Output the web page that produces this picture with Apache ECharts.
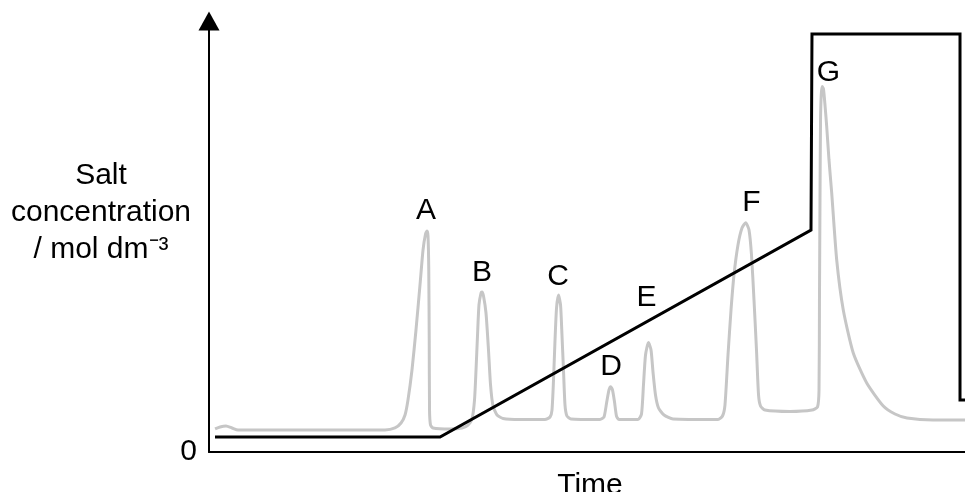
<!DOCTYPE html>
<html>
<head>
<meta charset="utf-8">
<script src="https://cdn.jsdelivr.net/npm/echarts@6/dist/echarts.min.js"></script>
<style>
html,body{margin:0;padding:0;background:#fff;}
#chart{width:965px;height:492px;}
</style>
</head>
<body>
<div id="chart"></div>
<script>
// Time axis and concentration axis both in relative units 0–100
var timeRange = [0, 100];
var levelRange = [0, 100];
var yTickLabels = ['0'];

// Chromatogram (absorbance trace, grey) [time, level]
var chromatogram = [
  [0.8, 5.34], [1.46, 5.80], [2.25, 6.03], [3.04, 5.57], [3.84, 5.10], [12.04, 5.10], [23.28, 5.10],
  [24.60, 5.57], [25.40, 6.73], [25.93, 8.58], [26.32, 12.06], [26.85, 19.03], [27.38, 28.31],
  [27.91, 38.75], [28.31, 46.87], [28.64, 50.58], [28.84, 51.28], [28.97, 50.12], [29.07, 42.23],
  [29.13, 25.99], [29.17, 9.74], [29.30, 6.26], [29.63, 5.57], [31.88, 5.34], [33.47, 5.57],
  [34.26, 6.26], [34.79, 7.66], [35.12, 12.06], [35.32, 19.03], [35.52, 27.15], [35.71, 34.11],
  [35.98, 36.89], [36.11, 37.12], [36.31, 36.19], [36.64, 32.25], [36.97, 23.67], [37.24, 15.55],
  [37.57, 10.67], [38.10, 8.58], [38.89, 7.77], [41.14, 7.54], [44.44, 7.54], [45.11, 8.12],
  [45.37, 9.74], [45.57, 16.71], [45.77, 25.99], [45.97, 33.41], [46.23, 36.43], [46.50, 34.11],
  [46.69, 27.15], [46.89, 19.03], [47.09, 10.90], [47.35, 8.35], [47.88, 7.66], [51.72, 7.54],
  [52.25, 8.12], [52.61, 11.60], [52.91, 14.39], [53.13, 15.15], [53.37, 14.39], [53.64, 11.60],
  [53.90, 8.35], [54.23, 7.54], [56.75, 7.54], [57.21, 8.82], [57.47, 15.55], [57.74, 22.51],
  [58.13, 25.41], [58.47, 23.67], [58.73, 18.56], [59.06, 13.23], [59.46, 10.21], [60.19, 8.58],
  [61.38, 7.66], [67.33, 7.54], [67.92, 8.35], [68.25, 10.90], [68.65, 22.51], [69.05, 32.95],
  [69.44, 41.07], [69.97, 48.03], [70.50, 51.97], [70.99, 53.20], [71.43, 51.51], [71.76, 45.71],
  [72.09, 35.27], [72.42, 23.67], [72.69, 13.23], [72.95, 10.67], [73.54, 9.74], [76.85, 9.40],
  [79.76, 9.74], [80.49, 10.44], [80.69, 14.39], [80.75, 35.27], [80.82, 58.47], [80.89, 77.03],
  [80.99, 83.06], [81.12, 84.80], [81.28, 84.22], [81.48, 80.51], [81.71, 75.41], [82.01, 67.75],
  [82.37, 60.09], [83.03, 44.55], [83.90, 32.95], [85.22, 22.97], [87.00, 16.01], [89.19, 10.67],
  [90.74, 8.82], [92.33, 7.89], [95.77, 7.42], [100, 7.42]
];

// Salt concentration gradient (black) [time, level]
var saltGradient = [
  [0.79, 3.48], [30.56, 3.48], [79.63, 51.51], [79.76, 96.98],
  [99.34, 96.98], [99.34, 12.06], [100, 12.06]
];

// Peak labels [time, level, name]
var peakNames = ['A', 'B', 'C', 'D', 'E', 'F', 'G'];
var peakLabelTime = [28.70, 36.11, 46.16, 53.17, 57.88, 71.76, 81.94];
var peakLabelLevel = [55.92, 41.65, 40.72, 19.84, 35.73, 57.89, 88.05];

var peakLabelData = peakNames.map(function (n, i) {
  return [peakLabelTime[i], peakLabelLevel[i], n];
});

var FONT = "'Liberation Sans', Arial, sans-serif";

var chart = echarts.init(document.getElementById('chart'), null, {renderer: 'canvas'});
chart.setOption({
  animation: false,
  backgroundColor: '#ffffff',
  grid: {left: 209, right: 0, top: 21, bottom: 40, containLabel: false, outerBoundsMode: 'none'},
  xAxis: {
    type: 'value',
    min: timeRange[0], max: timeRange[1],
    name: 'Time',
    nameLocation: 'middle',
    nameGap: 19,
    nameTextStyle: {fontSize: 30, fontFamily: FONT, color: '#000', padding: [0, 0, 0, 6]},
    axisLine: {show: true, onZero: false, lineStyle: {color: '#000', width: 2}},
    axisTick: {show: false},
    axisLabel: {show: false},
    splitLine: {show: false}
  },
  yAxis: {
    type: 'value',
    min: levelRange[0], max: levelRange[1], interval: 100,
    axisLine: {show: true, lineStyle: {color: '#000', width: 2}, symbol: ['none', 'triangle'], symbolSize: [21, 19]},
    axisTick: {show: false},
    axisLabel: {
      show: true, fontSize: 30, fontFamily: FONT, color: '#000', margin: 12,
      formatter: function (v) { return v === 0 ? yTickLabels[0] : ''; }
    },
    splitLine: {show: false}
  },
  graphic: [{
    type: 'text',
    x: 101, y: 213,
    style: {
      text: 'Salt\nconcentration\n/ mol dm\u207B\u00B3',
      fontSize: 30, fontFamily: FONT, fill: '#000',
      textAlign: 'center', textVerticalAlign: 'middle',
      lineHeight: 37
    }
  }],
  series: [
    {
      type: 'line',
      data: chromatogram,
      symbol: 'none',
      smooth: 0.2,
      lineStyle: {color: '#c6c6c6', width: 3},
      z: 2
    },
    {
      type: 'line',
      data: saltGradient,
      symbol: 'none',
      lineStyle: {color: '#000', width: 3, join: 'miter'},
      z: 3
    },
    {
      type: 'scatter',
      data: peakLabelData,
      symbolSize: 1,
      itemStyle: {color: 'rgba(0,0,0,0)'},
      label: {
        show: true, position: 'inside',
        formatter: function (p) { return p.value[2]; },
        fontSize: 30, fontFamily: FONT, color: '#000', opacity: 1,
        textBorderWidth: 0
      },
      z: 4
    }
  ]
});
</script>
</body>
</html>
